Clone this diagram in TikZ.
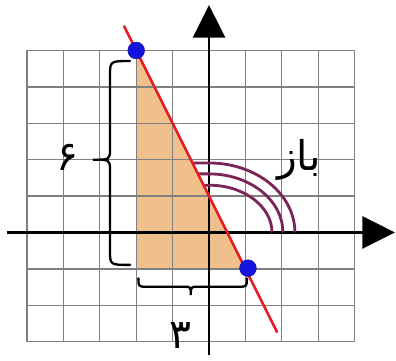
\documentclass[tikz,border=0pt]{standalone}
\usepackage{fontspec}
\usetikzlibrary{arrows.meta}
\TeXXeTstate=1
\newfontfamily\arabicfont[Script=Arabic]{DejaVu Sans}
\definecolor{tri}{RGB}{240,192,140}
\definecolor{redline}{RGB}{232,28,36}
\definecolor{dotblue}{RGB}{20,20,225}
\definecolor{arccol}{RGB}{122,36,88}
\tikzset{
  gridline/.style={line width=1pt, black!50},
  axis/.style={line width=2.2pt, black, -{Triangle[length=0.9cm,width=0.88cm]}},
  bracestyle/.style={line width=1.8pt, black, line cap=round},
  anglearc/.style={line width=2.2pt, arccol},
  ptdot/.style={circle, fill=dotblue, draw=dotblue!70!black, line width=0.4pt, minimum size=0.46cm, inner sep=0pt},
  lbl/.style={font=\arabicfont\fontsize{32}{34}\selectfont, inner sep=0pt}
}
\begin{document}
\begin{tikzpicture}[x=1cm,y=1cm]
\useasboundingbox (-5.742,-3.530) rectangle (5.137,6.387);
\coordinate (A) at (-2,5);
\coordinate (B) at (-2,-1);
\coordinate (C) at (1,-1);
% triangle
\fill[tri] (A) -- (B) -- (C) -- cycle;
% grid
\draw[gridline] (-5,-3) grid (4,5);
% axes
\coordinate (xl) at (-5.55,0);
\coordinate (xr) at (5.11,0);
\coordinate (yb) at (0,-3.37);
\coordinate (yt) at (0,6.25);
\draw[axis] (xl) -- (xr);
\draw[axis] (yb) -- (yt);
% angle arcs
\draw[anglearc] (-0.455,1.91) -- (0,1.91) arc[start angle=90,end angle=0,x radius=2.36,y radius=1.91];
\draw[anglearc] (-0.305,1.61) -- (0,1.61) arc[start angle=90,end angle=0,x radius=2.03,y radius=1.61];
\draw[anglearc] (-0.15,1.30) -- (0,1.30) arc[start angle=90,end angle=0,x radius=1.73,y radius=1.30];
% red line
\coordinate (L1) at (-2.34,5.68);
\coordinate (L2) at (1.875,-2.75);
\draw[redline, line width=2pt] (L1) -- (L2);
% left brace
\draw[bracestyle] (-2.17,4.71) .. controls (-2.72,4.71) .. (-2.72,4.3) -- (-2.72,2.3)
  .. controls (-2.72,2.0) .. (-3.19,2.0) .. controls (-2.72,2.0) .. (-2.72,1.7)
  -- (-2.72,-0.5) .. controls (-2.72,-0.89) .. (-2.17,-0.89);
% bottom brace
\draw[bracestyle] (-1.94,-1.26) .. controls (-1.94,-1.49) .. (-1.7,-1.49) -- (-0.7,-1.49)
  .. controls (-0.5,-1.49) .. (-0.5,-1.72) .. controls (-0.5,-1.49) .. (-0.3,-1.49)
  -- (0.8,-1.49) .. controls (1.04,-1.49) .. (1.04,-1.26);
% points
\node[ptdot] (P1) at (A) {};
\node[ptdot] (P2) at (1.07,-0.98) {};
% labels
\node[lbl] (six) at (-3.90,2.05) {\beginR ۶\endR};
\node[lbl] (three) at (-0.77,-2.82) {\beginR ۳\endR};
\node[lbl] (baz) at (2.47,1.99) {\beginR باز\endR};
\end{tikzpicture}
\end{document}
